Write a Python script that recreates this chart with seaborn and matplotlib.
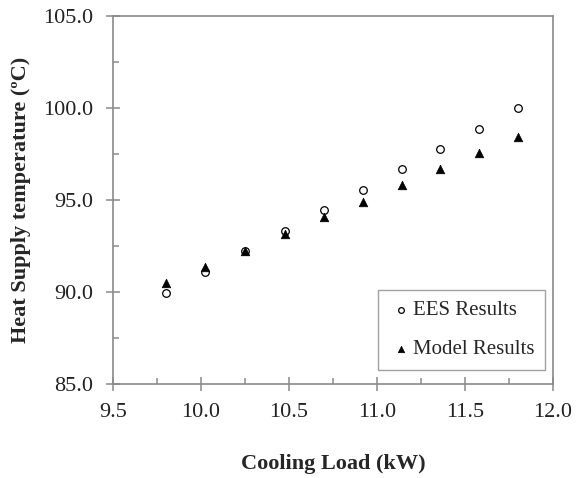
import pandas as pd
import seaborn as sns
import matplotlib.pyplot as plt
from matplotlib.ticker import MultipleLocator, FormatStrFormatter

# === data ===
cooling_load = [9.80, 10.025, 10.25, 10.475, 10.70, 10.92, 11.14, 11.36, 11.58, 11.80]
ees_results = [89.96, 91.07, 92.21, 93.30, 94.43, 95.52, 96.65, 97.74, 98.86, 100.00]
model_results = [90.47, 91.34, 92.21, 93.16, 94.06, 94.90, 95.81, 96.68, 97.55, 98.42]

df = pd.DataFrame({
    'load': cooling_load * 2,
    'temp': ees_results + model_results,
    'series': ['EES Results'] * len(cooling_load) + ['Model Results'] * len(cooling_load),
})

sns.set_style('white')
plt.rcParams['font.family'] = ['Liberation Serif', 'DejaVu Serif']

fig = plt.figure(figsize=(5.76, 4.78), dpi=100)
ax = fig.add_axes([0.196, 0.197, 0.764, 0.770])

sns.scatterplot(
    data=df[df.series == 'EES Results'], x='load', y='temp',
    marker='o', s=30, facecolor='white', edgecolor='black', linewidth=0.9,
    label='EES Results', ax=ax, zorder=2
)
sns.scatterplot(
    data=df[df.series == 'Model Results'], x='load', y='temp',
    marker='^', s=38, color='black', edgecolor='black', linewidth=0.5,
    label='Model Results', ax=ax, zorder=3
)

ax.set_xlim(9.5, 12.0)
ax.set_ylim(85.0, 105.0)
ax.xaxis.set_major_locator(MultipleLocator(0.5))
ax.xaxis.set_minor_locator(MultipleLocator(0.25))
ax.yaxis.set_major_locator(MultipleLocator(5))
ax.yaxis.set_minor_locator(MultipleLocator(2.5))
ax.xaxis.set_major_formatter(FormatStrFormatter('%.1f'))
ax.yaxis.set_major_formatter(FormatStrFormatter('%.1f'))

grey = '#8a8a8a'
for sp in ax.spines.values():
    sp.set_color(grey)
    sp.set_linewidth(1.2)
ax.tick_params(which='both', bottom=True, left=True, top=False, right=False)
ax.tick_params(which='major', direction='inout', length=10, width=1.1, color=grey,
               labelsize=16, labelcolor='#222222')
ax.tick_params(which='minor', direction='in', length=4, width=1.1, color=grey)
ax.tick_params(axis='x', which='major', pad=9)
ax.tick_params(axis='y', which='major', pad=9)

ax.set_xlabel('Cooling Load (kW)', fontsize=16, fontweight='bold', labelpad=23)
ax.set_ylabel('Heat Supply temperature (ºC)', fontsize=16, fontweight='bold', labelpad=9)

leg = ax.legend(loc='lower left', bbox_to_anchor=(0.602, 0.038, 0.38, 0.22), mode='expand',
                borderaxespad=0, fontsize=15, frameon=True, fancybox=False,
                handletextpad=0.0, handlelength=1.2, borderpad=0.5, labelspacing=0.95,
                markerscale=0.75)
leg.get_frame().set_edgecolor(grey)
leg.get_frame().set_linewidth(1.0)

fig.savefig('out.png', dpi=100)
